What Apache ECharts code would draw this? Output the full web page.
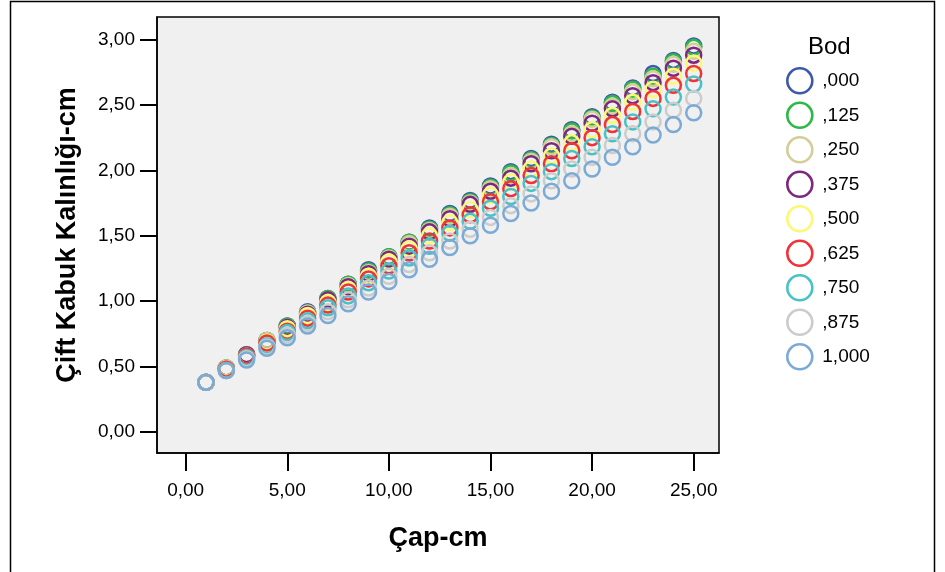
<!DOCTYPE html>
<html>
<head>
<meta charset="utf-8">
<script src="https://cdn.jsdelivr.net/npm/echarts@6/dist/echarts.min.js"></script>
<style>html,body{margin:0;padding:0;background:#fff}#c{width:945px;height:572px}</style>
</head>
<body>
<div id="c"></div>
<script>
// Çap-cm values (x)
var capCm = [1,2,3,4,5,6,7,8,9,10,11,12,13,14,15,16,17,18,19,20,21,22,23,24,25];
// Bod legend names
var bodNames = [',000', ',125', ',250', ',375', ',500', ',625', ',750', ',875', '1,000'];
// Çift Kabuk Kalınlığı-cm, one array per Bod value
var bod000 = [0.38,0.49,0.59,0.70,0.81,0.92,1.02,1.13,1.24,1.34,1.45,1.56,1.67,1.77,1.88,1.99,2.09,2.20,2.31,2.41,2.52,2.63,2.74,2.84,2.95];
var bod125 = [0.38,0.49,0.59,0.70,0.81,0.91,1.02,1.13,1.23,1.34,1.45,1.55,1.66,1.76,1.87,1.98,2.08,2.19,2.30,2.40,2.51,2.62,2.72,2.83,2.94];
var bod250 = [0.38,0.49,0.59,0.70,0.80,0.91,1.01,1.12,1.22,1.33,1.44,1.54,1.65,1.75,1.86,1.96,2.07,2.18,2.28,2.39,2.49,2.60,2.70,2.81,2.91];
var bod375 = [0.38,0.48,0.59,0.69,0.80,0.90,1.01,1.11,1.21,1.32,1.42,1.53,1.63,1.74,1.84,1.94,2.05,2.15,2.26,2.36,2.47,2.57,2.67,2.78,2.88];
var bod500 = [0.38,0.48,0.58,0.69,0.79,0.89,0.99,1.09,1.19,1.30,1.40,1.50,1.60,1.70,1.81,1.91,2.01,2.11,2.21,2.31,2.42,2.52,2.62,2.72,2.82];
var bod625 = [0.38,0.48,0.58,0.68,0.77,0.87,0.97,1.07,1.17,1.27,1.37,1.46,1.56,1.66,1.76,1.86,1.96,2.05,2.15,2.25,2.35,2.45,2.55,2.65,2.74];
var bod750 = [0.38,0.47,0.57,0.66,0.76,0.85,0.95,1.04,1.14,1.23,1.33,1.42,1.52,1.61,1.71,1.80,1.90,1.99,2.09,2.18,2.28,2.37,2.47,2.56,2.66];
var bod875 = [0.38,0.47,0.56,0.65,0.74,0.83,0.92,1.01,1.10,1.19,1.28,1.37,1.46,1.55,1.64,1.73,1.82,1.92,2.01,2.10,2.19,2.28,2.37,2.46,2.55];
var bod1000 = [0.38,0.47,0.55,0.64,0.72,0.81,0.89,0.98,1.07,1.15,1.24,1.32,1.41,1.50,1.58,1.67,1.75,1.84,1.92,2.01,2.10,2.18,2.27,2.35,2.44];
// tick values
var xTicks = [0,5,10,15,20,25];
var yTicks = [0,0.5,1,1.5,2,2.5,3];

var allSeries = [bod000,bod125,bod250,bod375,bod500,bod625,bod750,bod875,bod1000];
var colors = ['#3E58AC','#2EB848','#D3CE97','#7C287D','#FBF873','#EF3338','#48C2C5','#CCCCCC','#7AAAD5'];
var FONT = 'Liberation Sans, Arial, sans-serif';
function fmt(v){ return v.toFixed(2).replace('.', ','); }

var chart = echarts.init(document.getElementById('c'), null, {renderer:'canvas'});
var series = allSeries.map(function(arr, i){
  return {
    name: bodNames[i],
    type: 'scatter',
    data: arr.map(function(v, j){ return [capCm[j], v]; }),
    symbol: 'circle',
    symbolSize: 15,
    itemStyle: { color: 'rgba(0,0,0,0)', borderColor: colors[i], borderWidth: 2.5, opacity: 1 },
    emphasis: { disabled: true },
    animation: false,
    clip: false
  };
});

chart.setOption({
  animation: false,
  title: {
    text: 'Bod', left: 808, top: 35, padding: 0,
    textStyle: { fontFamily: FONT, fontSize: 24, fontWeight: 'normal', color: '#000' }
  },
  legend: {
    orient: 'vertical', left: 786, top: 67, padding: 0,
    itemWidth: 25, itemHeight: 25, itemGap: 6.9,
    icon: 'circle',
    itemStyle: { borderWidth: 2.6 },
    data: bodNames,
    selectedMode: false,
    textStyle: { fontFamily: FONT, fontSize: 19, color: '#000', padding: [0,0,0,5] }
  },
  grid: {
    left: 157, top: 17, width: 562, height: 436,
    show: true, backgroundColor: '#F0F0F0', borderColor: '#000', borderWidth: 1.5
  },
  xAxis: {
    type: 'value', min: -1.41, max: 26.245,
    name: 'Çap-cm', nameLocation: 'middle', nameGap: 72,
    nameTextStyle: { fontFamily: FONT, fontSize: 27, fontWeight: 'bold', color: '#000' },
    axisLine: { show: true, onZero: false, lineStyle: { color: '#000', width: 1.5 } },
    axisTick: { show: true, inside: false, length: 18, customValues: xTicks, lineStyle: { color: '#000', width: 2 } },
    axisLabel: { show: true, margin: 28, customValues: xTicks, formatter: fmt,
      fontFamily: FONT, fontSize: 19, color: '#000' },
    splitLine: { show: false }
  },
  yAxis: {
    type: 'value', min: -0.1605, max: 3.172,
    name: 'Çift Kabuk Kalınlığı-cm', nameLocation: 'middle', nameGap: 76,
    nameTextStyle: { fontFamily: FONT, fontSize: 27, fontWeight: 'bold', color: '#000' },
    axisLine: { show: true, onZero: false, lineStyle: { color: '#000', width: 1.5 } },
    axisTick: { show: true, inside: false, length: 17, customValues: yTicks, lineStyle: { color: '#000', width: 2 } },
    axisLabel: { show: true, margin: 22, customValues: yTicks, formatter: fmt,
      fontFamily: FONT, fontSize: 19, color: '#000' },
    splitLine: { show: false }
  },
  graphic: [{
    type: 'rect', z: -1, silent: true,
    shape: { x: 10.5, y: 1.5, width: 924, height: 620 },
    style: { fill: 'none', stroke: '#000', lineWidth: 1.5 }
  }],
  series: series
});
</script>
</body>
</html>
